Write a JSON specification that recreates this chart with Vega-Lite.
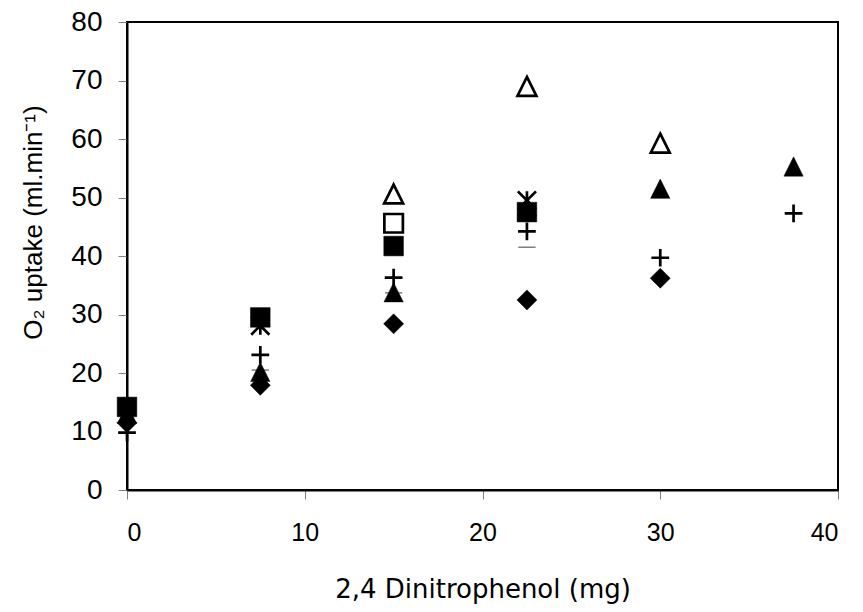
{
  "$schema": "https://vega.github.io/schema/vega-lite/v6.json",
  "width": 711,
  "height": 468,
  "autosize": "none",
  "padding": {"left": 127, "top": 22, "right": 25, "bottom": 122},
  "background": "white",
  "config": {
    "view": {"stroke": "black", "strokeWidth": 2},
    "axis": {
      "grid": false,
      "domainColor": "black",
      "domainWidth": 2,
      "tickColor": "#808080",
      "tickWidth": 1,
      "tickSize": 9,
      "labelFont": "Liberation Sans",
      "labelFontSize": 28,
      "labelColor": "black",
      "titleFont": "Liberation Sans",
      "titleFontSize": 26,
      "titleFontWeight": "normal",
      "titleColor": "black"
    }
  },
  "data": {
    "values": [
      {"series": "dash", "dnp": 7.5, "o2": 20.5},
      {"series": "dash", "dnp": 15, "o2": 33.7},
      {"series": "dash", "dnp": 22.5, "o2": 41.5},
      {"series": "opentri", "dnp": 15, "o2": 50.6},
      {"series": "opentri", "dnp": 22.5, "o2": 69},
      {"series": "opentri", "dnp": 30, "o2": 59.3},
      {"series": "opensq", "dnp": 15, "o2": 45.6},
      {"series": "star", "dnp": 7.5, "o2": 28.1},
      {"series": "star", "dnp": 22.5, "o2": 49.5},
      {"series": "plus", "dnp": 0, "o2": 9.8},
      {"series": "plus", "dnp": 7.5, "o2": 23.1},
      {"series": "plus", "dnp": 15, "o2": 36.3},
      {"series": "plus", "dnp": 22.5, "o2": 44.2},
      {"series": "plus", "dnp": 30, "o2": 39.7},
      {"series": "plus", "dnp": 37.5, "o2": 47.3},
      {"series": "triangle", "dnp": 0, "o2": 13},
      {"series": "triangle", "dnp": 7.5, "o2": 20.2},
      {"series": "triangle", "dnp": 15, "o2": 33.8},
      {"series": "triangle", "dnp": 22.5, "o2": 48.5},
      {"series": "triangle", "dnp": 30, "o2": 51.5},
      {"series": "triangle", "dnp": 37.5, "o2": 55.3},
      {"series": "diamond", "dnp": 0, "o2": 11.5},
      {"series": "diamond", "dnp": 7.5, "o2": 17.9},
      {"series": "diamond", "dnp": 15, "o2": 28.4},
      {"series": "diamond", "dnp": 22.5, "o2": 32.5},
      {"series": "diamond", "dnp": 30, "o2": 36.2},
      {"series": "square", "dnp": 0, "o2": 14.2},
      {"series": "square", "dnp": 7.5, "o2": 29.5},
      {"series": "square", "dnp": 15, "o2": 41.7},
      {"series": "square", "dnp": 22.5, "o2": 47.5}
    ]
  },
  "encoding": {
    "x": {
      "field": "dnp",
      "type": "quantitative",
      "scale": {"domain": [0, 40], "nice": false},
      "axis": {
        "values": [0, 10, 20, 30, 40],
        "title": "2,4 Dinitrophenol (mg)",
        "labelPadding": 21,
        "labelFontSize": 25,
        "titleFont": "DejaVu Sans",
        "titleFontSize": 26,
        "titlePadding": 31
      }
    },
    "y": {
      "field": "o2",
      "type": "quantitative",
      "scale": {"domain": [0, 80], "nice": false},
      "axis": {
        "values": [0, 10, 20, 30, 40, 50, 60, 70, 80],
        "title": "O₂ uptake (ml.min⁻¹)",
        "labelPadding": 16,
        "titleX": -94,
        "titleY": 200,
        "titleBaseline": "middle",
        "titleAlign": "center"
      }
    },
    "shape": {
      "field": "series",
      "type": "nominal",
      "legend": null,
      "scale": {
        "domain": ["diamond", "square", "triangle", "opentri", "opensq", "star", "plus", "dash"],
        "range": [
          "M-1,0L0,-1L1,0L0,1Z",
          "M-1,-1L1,-1L1,1L-1,1Z",
          "M0,-1L1,1L-1,1Z",
          "M0,-1L1,1L-1,1Z",
          "M-1,-1L1,-1L1,1L-1,1Z",
          "M-1,-1L1,1M-1,1L1,-1M0,-1L0,1",
          "M-1,0L1,0M0,-1L0,1",
          "M-1,0L1,0"
        ]
      }
    },
    "fill": {
      "field": "series",
      "type": "nominal",
      "legend": null,
      "scale": {
        "domain": ["diamond", "square", "triangle", "opentri", "opensq", "star", "plus", "dash"],
        "range": ["black", "black", "black", "white", "white", "transparent", "transparent", "transparent"]
      }
    },
    "stroke": {
      "field": "series",
      "type": "nominal",
      "legend": null,
      "scale": {
        "domain": ["diamond", "square", "triangle", "opentri", "opensq", "star", "plus", "dash"],
        "range": ["black", "black", "black", "black", "black", "black", "black", "#808080"]
      }
    },
    "size": {
      "field": "series",
      "type": "nominal",
      "legend": null,
      "scale": {
        "domain": ["diamond", "square", "triangle", "opentri", "opensq", "star", "plus", "dash"],
        "range": [400, 300, 400, 340, 250, 380, 440, 360]
      }
    }
  },
  "layer": [
    {
      "transform": [{"filter": {"field": "series", "oneOf": ["dash"]}}],
      "mark": {"type": "point", "opacity": 1, "strokeWidth": 1.5}
    },
    {
      "transform": [{"filter": {"field": "series", "oneOf": ["opentri", "opensq", "star", "plus"]}}],
      "mark": {"type": "point", "opacity": 1, "strokeWidth": 2.7}
    },
    {
      "transform": [{"filter": {"field": "series", "oneOf": ["triangle", "diamond", "square"]}}],
      "mark": {"type": "point", "opacity": 1, "strokeWidth": 0.5}
    }
  ]
}
